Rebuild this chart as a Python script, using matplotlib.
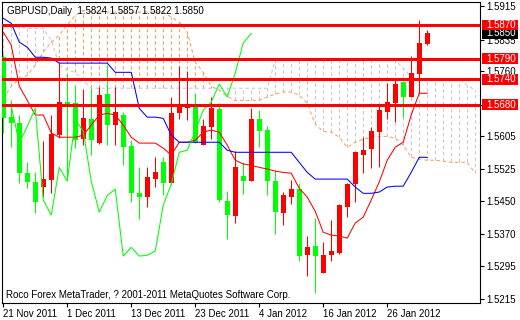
import matplotlib
matplotlib.use('Agg')
import matplotlib.pyplot as plt
import matplotlib.transforms as mtransforms
from matplotlib.patches import Rectangle

plt.rcParams['font.family'] = ['Liberation Sans', 'DejaVu Sans']
plt.rcParams['lines.scale_dashes'] = False

# ---------------- data ----------------
open_ = [1.5793, 1.5650, 1.5635, 1.5516, 1.5495, 1.5483, 1.5499, 1.5607, 1.5686, 1.5683,
         1.5597, 1.5645, 1.5588, 1.5705, 1.5631, 1.5655, 1.5580, 1.5468, 1.5459, 1.5502,
         1.5542, 1.5492, 1.5659, 1.5671, 1.5674, 1.5583, 1.5626, 1.5669, 1.5449, 1.5413,
         1.5509, 1.5497, 1.5645, 1.5619, 1.5497, 1.5420, 1.5459, 1.5478, 1.5320, 1.5342,
         1.5277, 1.5320, 1.5325, 1.5435, 1.5490, 1.5559, 1.5573, 1.5614, 1.5662, 1.5683,
         1.5733, 1.5698, 1.5753, 1.5824]
high = [1.5798, 1.5690, 1.5655, 1.5542, 1.5518, 1.5593, 1.5655, 1.5779, 1.5755, 1.5726,
        1.5717, 1.5719, 1.5721, 1.5774, 1.5721, 1.5662, 1.5595, 1.5530, 1.5530, 1.5554,
        1.5554, 1.5698, 1.5772, 1.5760, 1.5707, 1.5645, 1.5698, 1.5683, 1.5473, 1.5569,
        1.5542, 1.5671, 1.5667, 1.5628, 1.5523, 1.5471, 1.5499, 1.5492, 1.5366, 1.5409,
        1.5351, 1.5404, 1.5442, 1.5492, 1.5569, 1.5602, 1.5626, 1.5681, 1.5731, 1.5738,
        1.5733, 1.5796, 1.5882, 1.5857]
low = [1.5612, 1.5578, 1.5492, 1.5480, 1.5420, 1.5459, 1.5468, 1.5600, 1.5499, 1.5576,
       1.5583, 1.5559, 1.5585, 1.5583, 1.5583, 1.5535, 1.5447, 1.5406, 1.5435, 1.5483,
       1.5463, 1.5490, 1.5645, 1.5643, 1.5588, 1.5583, 1.5597, 1.5447, 1.5358, 1.5397,
       1.5466, 1.5497, 1.5578, 1.5463, 1.5370, 1.5392, 1.5442, 1.5306, 1.5270, 1.5229,
       1.5277, 1.5306, 1.5323, 1.5411, 1.5447, 1.5516, 1.5528, 1.5530, 1.5645, 1.5638,
       1.5650, 1.5698, 1.5707, 1.5822]
close = [1.5647, 1.5635, 1.5516, 1.5495, 1.5447, 1.5502, 1.5609, 1.5686, 1.5678, 1.5595,
         1.5647, 1.5595, 1.5702, 1.5631, 1.5662, 1.5578, 1.5468, 1.5459, 1.5506, 1.5518,
         1.5492, 1.5659, 1.5676, 1.5676, 1.5588, 1.5628, 1.5671, 1.5452, 1.5416, 1.5530,
         1.5497, 1.5645, 1.5616, 1.5497, 1.5423, 1.5463, 1.5478, 1.5318, 1.5339, 1.5318,
         1.5320, 1.5330, 1.5440, 1.5490, 1.5566, 1.5571, 1.5616, 1.5667, 1.5686, 1.5729,
         1.5698, 1.5755, 1.5827, 1.5850]

tenkan = [1.5853, 1.5822, 1.5724, 1.5690, 1.5655, 1.5655, 1.5612, 1.5602, 1.5602, 1.5602,
          1.5607, 1.5631, 1.5655, 1.5659, 1.5655, 1.5631, 1.5602, 1.5588, 1.5588, 1.5588,
          1.5576, 1.5559, 1.5590, 1.5590, 1.5595, 1.5614, 1.5619, 1.5614, 1.5583, 1.5547,
          1.5538, 1.5535, 1.5530, 1.5526, 1.5521, 1.5518, 1.5516, 1.5480, 1.5459, 1.5425,
          1.5375, 1.5368, 1.5366, 1.5361, 1.5397, 1.5411, 1.5452, 1.5495, 1.5547, 1.5578,
          1.5590, 1.5655, 1.5707, 1.5707]
kijun = [1.5886, 1.5874, 1.5829, 1.5817, 1.5793, 1.5793, 1.5791, 1.5779, 1.5779, 1.5779,
         1.5779, 1.5779, 1.5779, 1.5779, 1.5757, 1.5757, 1.5757, 1.5671, 1.5650, 1.5650,
         1.5647, 1.5607, 1.5590, 1.5590, 1.5590, 1.5590, 1.5590, 1.5590, 1.5571, 1.5566,
         1.5566, 1.5566, 1.5566, 1.5566, 1.5566, 1.5566, 1.5566, 1.5542, 1.5518, 1.5502,
         1.5502, 1.5502, 1.5502, 1.5502, 1.5483, 1.5468, 1.5468, 1.5471, 1.5483, 1.5485,
         1.5485, 1.5518, 1.5554, 1.5554]
senkou_a = [1.5695, 1.5724, 1.5741, 1.5750, 1.5774, 1.5805, 1.5829, 1.5846, 1.5870, 1.5893,
            1.5905, 1.5901, 1.5901, 1.5901, 1.5901, 1.5901, 1.5901, 1.5901, 1.5901, 1.5901,
            1.5901, 1.5889, 1.5877, 1.5853, 1.5781, 1.5757, 1.5724, 1.5714, 1.5700, 1.5690,
            1.5690, 1.5690, 1.5690, 1.5698, 1.5705, 1.5710, 1.5710, 1.5702, 1.5683, 1.5633,
            1.5616, 1.5614, 1.5602, 1.5578, 1.5590, 1.5597, 1.5602, 1.5604, 1.5604, 1.5600,
            1.5583, 1.5554, 1.5550, 1.5547, 1.5547, 1.5545, 1.5542, 1.5542, 1.5542, 1.5516]
senkou_b = [1.5865, 1.5865, 1.5865, 1.5862, 1.5862, 1.5862, 1.5834, 1.5774, 1.5762, 1.5757,
            1.5738, 1.5719, 1.5719, 1.5719, 1.5719, 1.5719, 1.5719, 1.5719, 1.5719, 1.5719,
            1.5719, 1.5719, 1.5719, 1.5719, 1.5719, 1.5719, 1.5719, 1.5719, 1.5719, 1.5719,
            1.5719, 1.5719, 1.5719, 1.5719, 1.5786, 1.5786, 1.5786, 1.5786, 1.5786, 1.5786,
            1.5786, 1.5786, 1.5786, 1.5786, 1.5786, 1.5786, 1.5786, 1.5786, 1.5786, 1.5786,
            1.5767, 1.5745, 1.5741, 1.5741, 1.5741, 1.5741, 1.5741, 1.5741, 1.5726, 1.5714]
chikou_shift = 22

level_lines = [1.5870, 1.5790, 1.5740, 1.5680]
last_price = 1.5850
ytick_vals = [1.5915, 1.5835, 1.5760, 1.5680, 1.5605, 1.5525, 1.5450, 1.5370, 1.5295, 1.5215]
xtick_idx = [0, 8, 16, 24, 32, 40, 48]
xtick_labels = ['21 Nov 2011', '1 Dec 2011', '13 Dec 2011', '23 Dec 2011',
                '4 Jan 2012', '16 Jan 2012', '26 Jan 2012']
title = 'GBPUSD,Daily  1.5824 1.5857 1.5822 1.5850'
footer = 'Roco Forex MetaTrader, ? 2001-2011 MetaQuotes Software Corp.'

# ---------------- figure ----------------
W, H = 520, 320
fig = plt.figure(figsize=(W / 100, H / 100), dpi=100)
ax = fig.add_axes([2 / W, 1 - 303 / H, 478 / W, 301 / H])
ax.set_xlim(-0.16, 59.6)
ax.set_ylim(1.5206, 1.5925)

RED = '#FF0000'
LIME = '#00FF00'
SANDY = '#F4A460'
THISTLE = '#D8BFD8'
BLUE = '#0000FF'

# cloud hatch
for i, (a, b) in enumerate(zip(senkou_a, senkou_b)):
    col = SANDY if a > b else THISTLE
    ax.vlines(i, min(a, b), max(a, b), colors=col, linewidth=0.75,
              linestyles=(0, (2.5, 2.0)), zorder=1)
xs = list(range(len(senkou_a)))
ax.plot(xs, senkou_a, color=SANDY, lw=0.75, ls=(0, (2.5, 2.0)), zorder=2)
ax.plot(xs, senkou_b, color=THISTLE, lw=0.75, ls=(0, (2.5, 2.0)), zorder=2)

# candles
n = len(close)
for i in range(n):
    o, h, l, c = open_[i], high[i], low[i], close[i]
    col = RED if c >= o else LIME
    ax.vlines(i, l, h, colors=col, linewidth=0.75, zorder=3)
    bot = min(o, c)
    hgt = max(abs(c - o), 0.00025)
    ax.bar(i, hgt, bottom=bot, width=0.62, color=col, linewidth=0, zorder=3)

# indicator lines
xi = list(range(n))
ax.plot(xi, tenkan, color=RED, lw=0.75, zorder=4)
ax.plot(xi, kijun, color=BLUE, lw=0.75, zorder=4)
cx = list(range(n - chikou_shift))
ax.plot(cx, close[chikou_shift:], color=LIME, lw=0.75, zorder=4)

# horizontal levels
for lv in level_lines:
    ax.axhline(lv, color=RED, lw=2.2, zorder=5)

# axes styling
for s in ax.spines.values():
    s.set_color('black')
    s.set_linewidth(0.8)
ax.yaxis.tick_right()
ax.set_yticks(ytick_vals)
ax.set_yticklabels([f'{v:.4f}' for v in ytick_vals])
ax.tick_params(axis='y', direction='out', length=3, width=0.8, pad=1.5, labelsize=7)
ax.set_xticks(xtick_idx)
ax.set_xticklabels(xtick_labels, ha='left')
ax.tick_params(axis='x', direction='out', length=3, width=0.8, pad=1.5, labelsize=7)

# price label boxes on right
bt = mtransforms.blended_transform_factory(fig.transFigure, ax.transData)
box_h = 0.0026
fig.patches.append(Rectangle((482 / W, last_price - box_h / 2), 36 / W, box_h,
                             transform=bt, facecolor='black', edgecolor='none', zorder=5))
fig.text(486 / W, last_price, f'{last_price:.4f}', transform=bt, color='white',
         fontsize=7, va='center', ha='left', zorder=6)
for lv in level_lines:
    fig.patches.append(Rectangle((482 / W, lv - box_h / 2), 36 / W, box_h,
                                 transform=bt, facecolor=RED, edgecolor='none', zorder=7))
    fig.text(486 / W, lv, f'{lv:.4f}', transform=bt, color='white',
             fontsize=7, va='center', ha='left', zorder=8)

fig.text(7 / W, 1 - 11 / H, title, fontsize=7, color='black', va='center', ha='left')
fig.text(6 / W, 1 - 295 / H, footer, fontsize=7, color='black', va='center', ha='left')

fig.savefig('out.png', dpi=100, facecolor='white')
